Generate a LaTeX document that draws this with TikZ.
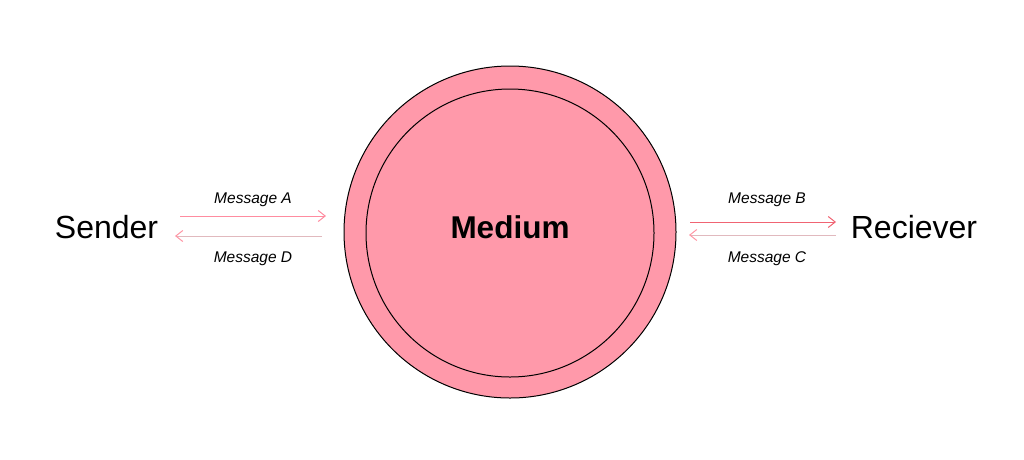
\documentclass[tikz,border=0pt]{standalone}
\usepackage{fontspec}
\setmainfont{Liberation Sans}
\usetikzlibrary{arrows.meta}
\definecolor{mediumfill}{RGB}{255,153,170}
\definecolor{arrowA}{RGB}{255,140,160}
\definecolor{arrowB}{RGB}{240,100,115}
\definecolor{arrowBack}{RGB}{225,185,190}
\definecolor{tipBack}{RGB}{255,150,165}
\begin{document}
\begin{tikzpicture}[x=1pt,y=-1pt,
  party/.style={inner sep=0pt,font=\fontsize{32}{36}\selectfont},
  msg/.style={inner sep=0pt,font=\fontsize{15.5}{18}\selectfont\itshape},
  fwd/.style={line width=1pt,-{Straight Barb[length=7pt,width=11pt,line width=1pt]}},
  back/.style={line width=1pt,-{Straight Barb[length=7pt,width=11pt,line width=1pt,color=tipBack]}}]
\useasboundingbox (0,0) rectangle (1024,459);
\node[circle,draw=black,line width=1pt,fill=mediumfill,minimum size=332pt,inner sep=0pt] (outer) at (510,232) {};
\node[circle,draw=black,line width=1pt,fill=mediumfill,minimum size=288pt,inner sep=0pt] (inner) at (510,233) {};
\node[inner sep=0pt,font=\fontsize{31.5}{36}\selectfont\bfseries] (medium) at (510,227) {Medium};
\node[party] (sender) at (106.5,227) {Sender};
\node[party] (receiver) at (914,227) {Reciever};
\coordinate (a1) at (180,216); \coordinate (a2) at (326,216);
\coordinate (d1) at (322,236); \coordinate (d2) at (175,236);
\coordinate (b1) at (690,222); \coordinate (b2) at (836,222);
\coordinate (c1) at (836,235); \coordinate (c2) at (689,235);
\draw[fwd,arrowA] (a1) -- (a2);
\draw[back,arrowBack] (d1) -- (d2);
\draw[fwd,arrowB] (b1) -- (b2);
\draw[back,arrowBack] (c1) -- (c2);
\node[msg] (ma) at (253,199.5) {Message A};
\node[msg] (md) at (253,258.5) {Message D};
\node[msg] (mb) at (767,199.5) {Message B};
\node[msg] (mc) at (767,258.5) {Message C};
\end{tikzpicture}
\end{document}
